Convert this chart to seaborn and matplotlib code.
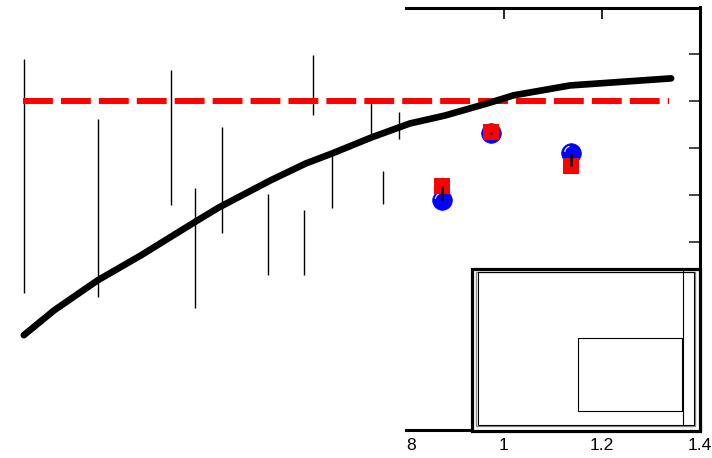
import numpy as np
import pandas as pd
import matplotlib
matplotlib.use("Agg")
import matplotlib.pyplot as plt
from matplotlib.patches import Rectangle
from matplotlib.path import Path
import seaborn as sns

# Model curve
curve_x = [0.020, 0.082, 0.171, 0.259, 0.369, 0.418, 0.524, 0.596, 0.649,
           0.729, 0.808, 0.880, 0.967, 1.020, 1.135, 1.341]
curve_y = [0.502, 0.555, 0.619, 0.672, 0.743, 0.774, 0.832, 0.868, 0.889,
           0.923, 0.953, 0.970, 0.996, 1.013, 1.034, 1.049]

# Reference level
ref_x = [0.018, 1.337]
ref_y = [1.0, 1.0]

# Measurements shown only as error bars
bar_x = [0.020, 0.171, 0.320, 0.369, 0.424, 0.518, 0.592, 0.610, 0.649, 0.729, 0.753, 0.786]
bar_y = [0.841, 0.773, 0.923, 0.687, 0.832, 0.716, 0.699, 1.034, 0.831, 0.967, 0.816, 0.948]
bar_err = [0.250, 0.190, 0.143, 0.128, 0.113, 0.086, 0.069, 0.064, 0.059, 0.041, 0.035, 0.029]

# Points with markers
pt_x = [0.873, 0.973, 1.137]
blue_y = [0.791, 0.932, 0.891]
red_y = [0.819, 0.934, 0.862]
pt_bar_y = [0.805, 0.933, 0.876]
pt_bar_err = [0.014, 0.002, 0.014]

x_ticks = [0.8, 1.0, 1.2, 1.4]
x_tick_labels = ["8", "1", "1.2", "1.4"]
y_ticks = [0.4, 0.5, 0.6, 0.7, 0.8, 0.9, 1.0, 1.1]

sns.set_style("white")
plt.rcParams["font.family"] = ["Liberation Sans", "DejaVu Sans"]

fig = plt.figure(figsize=(7.12, 4.58), dpi=100)
ax = fig.add_axes([406 / 712, 1 - 430 / 458, 294 / 712, 422.5 / 458])

# error bars without markers
ax.errorbar(bar_x, bar_y, yerr=bar_err, fmt="none", ecolor="black",
            elinewidth=1.0, capsize=0, clip_on=False, zorder=3)

# reference dashed line
sns.lineplot(x=ref_x, y=ref_y, ax=ax, color="#ff0000", linewidth=4.3,
             clip_on=False, zorder=4, estimator=None, sort=False)
ax.lines[-1].set_dashes((5.0, 1.35))
ax.lines[-1].set_dash_capstyle("butt")

# model curve
sns.lineplot(x=curve_x, y=curve_y, ax=ax, color="black", linewidth=4.8,
             clip_on=False, zorder=5, estimator=None, sort=False)
ax.lines[-1].set_solid_joinstyle("round")

# marked points
sns.scatterplot(x=pt_x, y=blue_y, ax=ax, marker="o", s=200, color="#0000ff",
                edgecolor="#0000ff", linewidth=0.5, clip_on=False, zorder=6)
arc = Path.arc(105, 175)
ax.scatter(pt_x, blue_y, marker=arc, s=85, facecolors="none",
           edgecolors="#e8e8ff", linewidths=0.9, clip_on=False, zorder=6.5)
sns.scatterplot(x=pt_x, y=red_y, ax=ax, marker="s", s=130, color="#ff0000",
                edgecolor="#ff0000", linewidth=0, clip_on=False, zorder=7)
ax.errorbar(pt_x, pt_bar_y, yerr=pt_bar_err, fmt="none", ecolor="black",
            elinewidth=1.8, capsize=0, clip_on=False, zorder=8)

ax.set_xlim(0.8, 1.4)
ax.set_ylim(0.3, 1.2)
ax.set_xticks(x_ticks)
ax.set_xticklabels(x_tick_labels)
ax.set_yticks(y_ticks)
ax.get_xticklabels()[0].set_horizontalalignment("left")

ax.tick_params(axis="x", direction="in", top=True, bottom=True, length=8,
               width=1.2, labelsize=12.6, pad=6, colors="black")
ax.tick_params(axis="y", direction="in", left=False, right=True, length=8,
               width=1.2, labelleft=False, labelright=False)
# the first and last x positions carry a label but no tick mark
for i in (0, len(x_ticks) - 1):
    tk = ax.xaxis.get_major_ticks()[i]
    tk.tick1line.set_visible(False)
    tk.tick2line.set_visible(False)

for side in ["top", "right", "bottom"]:
    ax.spines[side].set_visible(True)
    ax.spines[side].set_color("black")
    ax.spines[side].set_linewidth(2.2)
ax.spines["left"].set_visible(False)
ax.set_xlabel("")
ax.set_ylabel("")

# empty framed box in the lower right
def ax_x(px):
    return (px - 406) / 294

def ax_y(py):
    return (430 - py) / 422.5

ax.add_patch(Rectangle((ax_x(472), ax_y(430.5)), ax_x(700) - ax_x(472),
                       ax_y(269) - ax_y(430.5), transform=ax.transAxes,
                       facecolor="white", edgecolor="black", linewidth=2.3,
                       clip_on=False, zorder=10))
ax.add_patch(Rectangle((ax_x(476), ax_y(425.5)), ax_x(695) - ax_x(476),
                       ax_y(271.5) - ax_y(425.5), transform=ax.transAxes,
                       facecolor="none", edgecolor="#888888", linewidth=1.0,
                       clip_on=False, zorder=11))
ax.add_patch(Rectangle((ax_x(477.5), ax_y(424.5)), ax_x(694) - ax_x(477.5),
                       ax_y(272) - ax_y(424.5), transform=ax.transAxes,
                       facecolor="none", edgecolor="black", linewidth=0.8,
                       clip_on=False, zorder=11))
ax.plot([ax_x(683), ax_x(683)], [ax_y(424.5), ax_y(270)], transform=ax.transAxes,
        color="black", linewidth=0.8, clip_on=False, zorder=12)
ax.add_patch(Rectangle((ax_x(578), ax_y(411)), ax_x(682) - ax_x(578),
                       ax_y(338) - ax_y(411), transform=ax.transAxes,
                       facecolor="white", edgecolor="black", linewidth=0.8,
                       clip_on=False, zorder=12))

fig.savefig("out.png", dpi=100)
